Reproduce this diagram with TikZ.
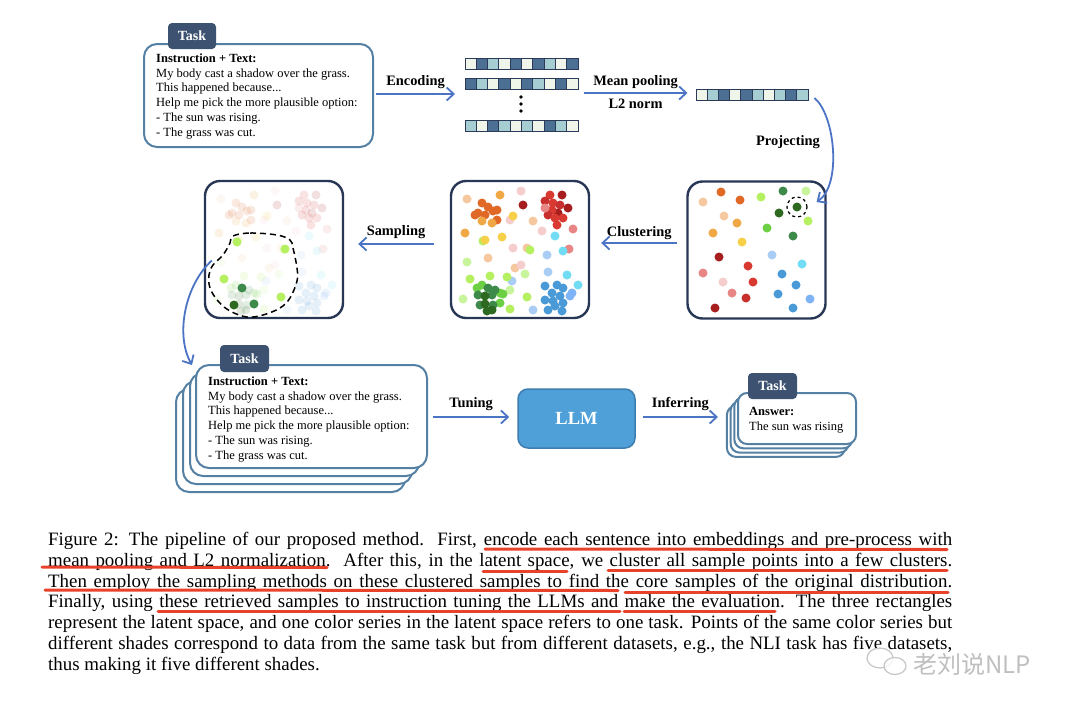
\documentclass[tikz,border=0pt]{standalone}
\usepackage{fontspec}
\setmainfont{Liberation Serif}
\newfontfamily\cjkfont{Noto Sans CJK SC}
\usetikzlibrary{arrows.meta}

% frame and text colours
\definecolor{cardline}{RGB}{84,128,163}
\definecolor{tabfill}{RGB}{61,82,112}
\definecolor{boxline}{RGB}{40,55,85}
\definecolor{flowblue}{RGB}{76,116,196}
\definecolor{llmfill}{RGB}{79,160,216}
\definecolor{llmline}{RGB}{62,125,175}
\definecolor{vecD}{RGB}{75,112,148}
\definecolor{vecM}{RGB}{166,206,210}
\definecolor{vecL}{RGB}{239,246,233}
\definecolor{vecline}{RGB}{42,58,88}
\definecolor{markred}{RGB}{233,66,42}
% latent point colours
\definecolor{cPeach}{RGB}{246,200,160}
\definecolor{cDOrange}{RGB}{224,105,40}
\definecolor{cOrange}{RGB}{240,168,70}
\definecolor{cYellow}{RGB}{247,208,74}
\definecolor{cPink}{RGB}{246,205,205}
\definecolor{cPinkRed}{RGB}{232,134,134}
\definecolor{cRed}{RGB}{216,58,50}
\definecolor{cCrimson}{RGB}{200,48,48}
\definecolor{cDRed}{RGB}{166,30,30}
\definecolor{cLime}{RGB}{180,240,96}
\definecolor{cPaleGreen}{RGB}{200,245,155}
\definecolor{cGreen}{RGB}{108,207,68}
\definecolor{cDGreen}{RGB}{62,138,74}
\definecolor{cDDGreen}{RGB}{45,105,30}
\definecolor{cCyan}{RGB}{114,220,245}
\definecolor{cLBlue}{RGB}{169,205,245}
\definecolor{cSkyBlue}{RGB}{126,179,245}
\definecolor{cBlue}{RGB}{74,154,216}

\tikzset{
  card/.style={draw=cardline, fill=white, line width=2pt, rounded corners=13pt,
    minimum width=229pt, minimum height=103pt, inner sep=0pt},
  anscard/.style={card, rounded corners=9pt, minimum width=118pt, minimum height=51pt},
  tasktab/.style={fill=tabfill, rounded corners=4pt, minimum width=48pt, minimum height=26pt,
    inner sep=0pt, text=white, font=\fontsize{14}{14}\selectfont\bfseries},
  cardtext/.style={anchor=north west, align=left, inner sep=0pt,
    font=\fontsize{12.5}{14.8}\selectfont},
  spacebox/.style={draw=boxline, line width=2.4pt, rounded corners=15pt,
    minimum width=138pt, minimum height=137pt, inner sep=0pt},
  flow/.style={draw=flowblue, line width=1.8pt, -{Straight Barb[length=7pt,width=13pt]}},
  steplabel/.style={font=\fontsize{14.4}{14.4}\selectfont\bfseries},
  cell/.style={draw=vecline, line width=1pt, minimum width=11.3pt, minimum height=11pt, inner sep=0pt},
  redline/.style={draw=markred, line width=3pt, line cap=round},
  captionline/.style={anchor=base west, inner sep=0pt, font=\fontsize{18.9}{20.8}\selectfont},
}

% points of the clustered latent space
\def\cloudlist{467/199/cPeach, 488/258/cPeach, 515/268/cPeach, 527/248/cPeach, 533/221/cPeach,
  521/191/cPink, 510/220/cPink, 542/231/cPink, 513/248/cPink, 521/265/cPink,
  500/195/cOrange, 465/233/cOrange,
  482/203/cDOrange, 488/207/cDOrange, 478/213/cDOrange, 485/215/cDOrange, 493/211/cDOrange,
  497/220/cDOrange, 475/215/cDOrange, 497/210/cDOrange,
  482/221/cOrange, 492/223/cOrange,
  483/241/cLime, 485/240/cYellow, 502/237/cYellow, 513/216/cYellow,
  523/205/cDRed, 562/195/cDRed, 568/208/cDRed, 558/213/cDRed,
  550/195/cRed, 545/201/cCrimson, 553/203/cRed, 560/205/cCrimson, 552/210/cRed,
  563/218/cRed, 557/225/cRed, 548/215/cCrimson, 555/218/cRed,
  545/208/cPinkRed, 573/229/cPinkRed, 569/249/cPinkRed,
  555/236/cCyan, 563/251/cCyan, 567/275/cCyan, 578/285/cCyan,
  547/255/cLBlue, 548/272/cLBlue, 512/281/cLBlue, 533/310/cLBlue,
  545/286/cBlue, 557/285/cBlue, 563/288/cBlue, 552/293/cBlue, 560/296/cBlue, 545/300/cBlue,
  553/301/cBlue, 563/303/cBlue, 548/310/cBlue, 562/311/cBlue, 555/306/cBlue,
  570/296/cSkyBlue, 572/293/cSkyBlue,
  470/279/cLime, 490/276/cLime, 507/277/cLime, 527/297/cLime, 510/309/cLime, 530/250/cLime,
  467/262/cPaleGreen, 463/299/cPaleGreen, 525/274/cPaleGreen, 510/290/cPaleGreen,
  477/288/cGreen, 482/285/cGreen, 500/293/cGreen, 503/294/cGreen, 500/303/cGreen,
  488/288/cDGreen, 495/290/cDGreen, 478/295/cDGreen, 492/295/cDGreen, 480/305/cDGreen, 493/305/cDGreen,
  485/296/cDDGreen, 485/304/cDDGreen, 487/311/cDDGreen, 492/310/cDDGreen}

\begin{document}
\begin{tikzpicture}[x=1pt, y=-1pt]
  \fill[white] (0,0) rectangle (1080,702);
  \useasboundingbox (0,0) rectangle (1080,702);

  % input task
  \node[card] (taskTop) at (258.5,95.5) {};
  \node[tasktab] (tabTop) at (192,36) {Task};
  \node[cardtext] (textTop) at ([shift={(13,10.5)}]taskTop.north west)
    {\textbf{Instruction + Text:}\\ My body cast a shadow over the grass.\\ This happened because...\\
     Help me pick the more plausible option:\\ - The sun was rising.\\ - The grass was cut.};

  % token embeddings
  \foreach \c [count=\i] in {vecL,vecD,vecM,vecL,vecD,vecL,vecD,vecM,vecL,vecD}
    \node[cell, fill=\c] (embA\i) at ({459.35+\i*11.3},63.5) {};
  \foreach \c [count=\i] in {vecD,vecM,vecL,vecD,vecL,vecD,vecM,vecL,vecD,vecL}
    \node[cell, fill=\c] (embB\i) at ({459.35+\i*11.3},84) {};
  \foreach \c [count=\i] in {vecM,vecL,vecD,vecM,vecL,vecM,vecL,vecD,vecM,vecL}
    \node[cell, fill=\c] (embD\i) at ({459.35+\i*11.3},125.5) {};
  \foreach \yy in {97,104,111}
    \fill (521,\yy) circle (1.8pt);

  % pooled sentence embedding
  \foreach \c [count=\i] in {vecL,vecM,vecD,vecL,vecD,vecM,vecL,vecM,vecD,vecM}
    \node[cell, minimum width=11.2pt, fill=\c] (pool\i) at ({690.4+\i*11.2},95) {};

  \coordinate (embIn) at (455,94);
  \draw[flow] ([shift={(2,-1.5)}]taskTop.east) -- (embIn)
    node[midway, above=1pt, steplabel, text=black] {Encoding};
  \draw[flow] ([shift={(5,9)}]embB10.east) -- ([shift={(-8,-2)}]pool1.west)
    node[midway, above=0pt, steplabel, text=black] {Mean pooling}
    node[midway, below=2pt, steplabel, text=black] {L2 norm};

  % three latent spaces
  \node[spacebox] (raw) at (756.5,250) {};
  \node[spacebox] (clus) at (520,249.5) {};
  \node[spacebox] (samp) at (274,249.5) {};

  % raw projected points
  \foreach \x/\y/\c in {703/202/cPeach, 721/192/cDOrange, 740/200/cDOrange, 761/197/cLime,
      783/191/cDGreen, 806/191/cPaleGreen, 779/213/cDDGreen, 797/207/cDDGreen, 808/221/cLime,
      724/216/cPeach, 737/223/cOrange, 713/233/cOrange, 767/228/cGreen, 793/236/cDGreen,
      742/242/cYellow, 719/257/cDRed, 772/255/cLBlue, 802/264/cCyan, 748/266/cRed,
      703/273/cPinkRed, 723/282/cPink, 753/282/cRed, 782/274/cBlue, 796/285/cBlue,
      732/293/cPinkRed, 746/298/cCrimson, 778/294/cBlue, 810/299/cSkyBlue, 715/308/cDRed,
      793/308/cBlue}
    \fill[\c] (\x,\y) circle (4.5pt);
  \node[draw, dashed, circle, line width=1.2pt, minimum size=20pt, inner sep=0pt] (pick) at (797,207) {};

  % clustered points
  \foreach \x/\y/\c in \cloudlist
    \fill[\c] (\x,\y) circle (4.5pt);

  % sampled points: the same cloud, faded
  \begin{scope}[xshift=-246pt]
    \foreach \x/\y/\c in \cloudlist
      \fill[\c, opacity=0.14] (\x,\y) circle (4.5pt);
  \end{scope}
  \foreach \x/\y/\c in {237/242/cLime, 285/249/cLime, 224/279/cLime, 281/297/cLime,
      242/288/cDGreen, 234/305/cDDGreen, 254/304/cDGreen}
    \fill[\c] (\x,\y) circle (4.5pt);
  \draw[dashed, dash pattern=on 6pt off 4pt, line width=1.5pt] plot[smooth cycle, tension=0.6]
    coordinates {(233,236) (250,233) (277,235) (290,240) (293,248) (297,268) (297,281) (290,298)
      (280,308) (263,315) (247,317) (230,311) (218,301) (210,288) (209,275) (213,265) (223,255) (230,243)};

  \draw[flow] ([shift={(6,3)}]pool10.east) .. controls (835,115) and (842,185) .. ([shift={(9,-5)}]pick.east);
  \node[steplabel] (projLbl) at (788,142) {Projecting};
  \draw[flow] ([shift={(-9,-7)}]raw.west) -- ([shift={(11,-6.5)}]clus.east)
    node[midway, above=-1pt, steplabel, text=black] {Clustering};
  \draw[flow] ([shift={(-16,-5.5)}]clus.west) -- ([shift={(14,-5.5)}]samp.east)
    node[midway, above=1pt, steplabel, text=black] {Sampling};

  % selected tasks for tuning
  \foreach \k in {3,2,1}
    \node[card] (stack\k) at ({311.5-7*\k},{416.5+8*\k}) {};
  \node[card, minimum width=231pt] (stackFront) at (311.5,416.5) {};
  \node[tasktab, minimum width=49pt, minimum height=27pt] (tabStack) at (244.5,358.5) {Task};
  \node[cardtext] (textStack) at ([shift={(13,12.5)}]stackFront.north west)
    {\textbf{Instruction + Text:}\\ My body cast a shadow over the grass.\\ This happened because...\\
     Help me pick the more plausible option:\\ - The sun was rising.\\ - The grass was cut.};
  \draw[flow] ([shift={(8,11)}]samp.west) .. controls (185,285) and (175,335) .. ([shift={(-3,1)}]stackFront.north west);

  % model and answers
  \node[fill=llmfill, draw=llmline, line width=1.5pt, rounded corners=10pt, minimum width=117pt,
    minimum height=59pt, text=white, font=\fontsize{18.5}{18.5}\selectfont\bfseries] (llm) at (576.5,418.5) {LLM};
  \foreach \k in {3,2,1}
    \node[anscard] (ans\k) at ({797-3.7*\k},{418.5+4.3*\k}) {};
  \node[anscard] (ansFront) at (797,418.5) {};
  \node[tasktab, minimum width=49pt] (tabAns) at (772.5,386) {Task};
  \node[cardtext] (textAns) at ([shift={(12,15.5)}]ansFront.north west)
    {\textbf{Answer:}\\ The sun was rising};

  \draw[flow] ([shift={(5,0.5)}]stackFront.east) -- ([shift={(-8,-1.5)}]llm.west)
    node[midway, above=2pt, steplabel, text=black] {Tuning};
  \draw[flow] ([shift={(7,-1.5)}]llm.east) -- ([shift={(-19,-1.5)}]ansFront.west)
    node[midway, above=2pt, steplabel, text=black] {Inferring};

  % caption
  \node[captionline] (cap1) at (48,545) {\makebox[904pt][s]{Figure 2: The pipeline of our proposed method.\ \ First, encode each sentence into embeddings and pre-process with}};
  \node[captionline] (cap2) at (48,566) {\makebox[904pt][s]{mean pooling and L2 normalization.\ \ After this, in the latent space, we cluster all sample points into a few clusters.}};
  \node[captionline] (cap3) at (48,587) {\makebox[904pt][s]{Then employ the sampling methods on these clustered samples to find the core samples of the original distribution.}};
  \node[captionline] (cap4) at (48,607.5) {\makebox[904pt][s]{Finally, using these retrieved samples to instruction tuning the LLMs and make the evaluation. The three rectangles}};
  \node[captionline] (cap5) at (48,628) {\makebox[904pt][s]{represent the latent space, and one color series in the latent space refers to one task. Points of the same color series but}};
  \node[captionline] (cap6) at (48,649) {\makebox[904pt][s]{different shades correspond to data from the same task but from different datasets, e.g., the NLI task has five datasets,}};
  \node[captionline] (cap7) at (48,670) {thus making it five different shades.};

  % hand-drawn highlights
  \draw[redline] (485,549) -- (947,549.5);
  \draw[redline] (42,567) -- (327,567.5);
  \draw[redline] (483,571) -- (567,571);
  \draw[redline] (608,570) -- (947,570);
  \draw[redline] (45,590) -- (618,590.5);
  \draw[redline] (625,592) -- (948,592);
  \draw[redline] (158,611) -- (620,611);
  \draw[redline] (624,611) -- (775,611);

  % watermark
  \draw[gray!45, line width=1.2pt, fill=white, fill opacity=0.8] (880,658) ellipse (13pt and 10pt);
  \draw[gray!45, line width=1.2pt, fill=white, fill opacity=0.8] (895,666) ellipse (11pt and 8.5pt);
  \node[text=gray!50, font=\cjkfont\fontsize{24}{24}\selectfont, anchor=west, inner sep=0pt] (wmark) at (913,664) {老刘说NLP};
\end{tikzpicture}
\end{document}
